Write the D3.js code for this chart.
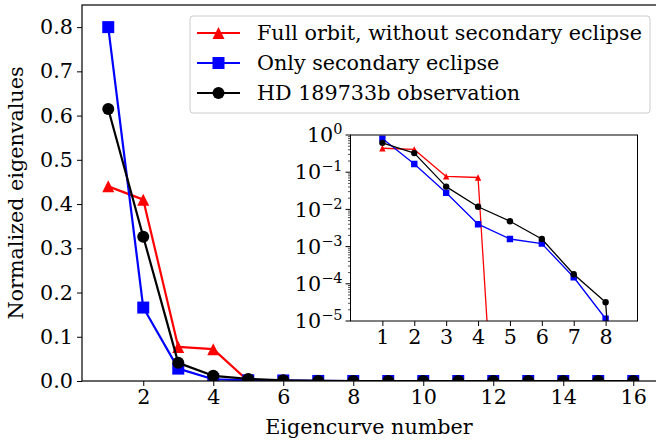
<!DOCTYPE html>
<html>
<head>
<meta charset="utf-8">
<script src="https://cdn.jsdelivr.net/npm/d3@7"></script>
<style>
  body { margin: 0; background: #fff; }
  svg { display: block; font-family: "DejaVu Serif", serif; }
</style>
</head>
<body>
<svg id="chart" width="656" height="440"></svg>
<script>
// eigencurve index 1..16
const eigenNumbers = [1, 2, 3, 4, 5, 6, 7, 8, 9, 10, 11, 12, 13, 14, 15, 16];

const fullOrbit = [0.44, 0.41, 0.077, 0.072, 1.3e-15, 1e-16, 1e-16, 1e-16, 1e-16, 1e-16, 1e-16, 1e-16, 1e-16, 1e-16, 1e-16, 1e-16];
const secondaryOnly = [0.80, 0.166, 0.028, 0.0040, 0.0016, 0.0012, 0.00015, 1.15e-5, 1e-16, 1e-16, 1e-16, 1e-16, 1e-16, 1e-16, 1e-16, 1e-16];
const hdObservation = [0.615, 0.326, 0.041, 0.0118, 0.0048, 0.0016, 0.00018, 3.2e-5, 1e-16, 1e-16, 1e-16, 1e-16, 1e-16, 1e-16, 1e-16, 1e-16];

const seriesNames = ["Full orbit, without secondary eclipse", "Only secondary eclipse", "HD 189733b observation"];
const seriesColors = ["#ff0000", "#0000ff", "#000000"];
const seriesMarkers = ["triangle", "square", "circle"];

const mainXTicks = [2, 4, 6, 8, 10, 12, 14, 16];
const mainYTicks = [0.0, 0.1, 0.2, 0.3, 0.4, 0.5, 0.6, 0.7, 0.8];
const insetXTicks = [1, 2, 3, 4, 5, 6, 7, 8];
const insetYExponents = [0, -1, -2, -3, -4, -5];

const fontSize = 20.7;

const series = [fullOrbit, secondaryOnly, hdObservation].map((vals, i) => ({
	name: seriesNames[i],
	color: seriesColors[i],
	marker: seriesMarkers[i],
	values: vals.map((v, j) => ({ n: eigenNumbers[j], v: v }))
}));

const svg = d3.select("#chart");

function markerPath(type, s) {
	// s = half size
	if (type === "triangle") return "M0," + (-s) + "L" + (-s) + "," + s + "L" + s + "," + s + "Z";
	if (type === "square") return "M" + (-s) + "," + (-s) + "h" + (2 * s) + "v" + (2 * s) + "h" + (-2 * s) + "Z";
	return d3.symbol().type(d3.symbolCircle).size(Math.PI * s * s)();
}

// ---------- main axes ----------
const main = { left: 82, right: 659.5, top: 5, bottom: 381 };

const x = d3.scaleLinear().domain([0.25, 16.75]).range([main.left, main.right]);
const y = d3.scaleLinear().domain([0, 0.85]).range([main.bottom, main.top]);

svg.append("clipPath").attr("id", "clip-main")
	.append("rect")
	.attr("x", main.left).attr("y", main.top)
	.attr("width", main.right - main.left).attr("height", main.bottom - main.top);

const mainPlot = svg.append("g").attr("clip-path", "url(#clip-main)");

const line = d3.line()
	.x(d => x(d.n))
	.y(d => y(d.v));

series.forEach(s => {
	mainPlot.append("path")
		.datum(s.values)
		.attr("fill", "none")
		.attr("stroke", s.color)
		.attr("stroke-width", 2.2)
		.attr("stroke-linejoin", "round")
		.attr("d", line);
	mainPlot.selectAll(null)
		.data(s.values)
		.enter().append("path")
		.attr("transform", d => "translate(" + x(d.n) + "," + y(d.v) + ")")
		.attr("d", markerPath(s.marker, 6))
		.attr("fill", s.color);
});

const xAxis = svg.append("g")
	.attr("transform", "translate(0," + main.bottom + ")")
	.call(d3.axisBottom(x).tickValues(mainXTicks).tickSize(5).tickPadding(3).tickFormat(d3.format("d")));

const yAxis = svg.append("g")
	.attr("transform", "translate(" + main.left + ",0)")
	.call(d3.axisLeft(y).tickValues(mainYTicks).tickSize(5).tickPadding(4).tickFormat(d3.format(".1f")));

[xAxis, yAxis].forEach(a => {
	a.select(".domain").remove();
	a.selectAll("line").attr("stroke", "#000").attr("stroke-width", 1);
	a.selectAll("text").attr("font-family", "DejaVu Serif").attr("font-size", fontSize).attr("fill", "#000");
});

svg.append("rect")
	.attr("x", main.left).attr("y", main.top)
	.attr("width", main.right - main.left).attr("height", main.bottom - main.top)
	.attr("fill", "none").attr("stroke", "#000").attr("stroke-width", 1.2);

svg.append("text")
	.attr("x", 369).attr("y", 434)
	.attr("text-anchor", "middle")
	.attr("font-size", fontSize)
	.text("Eigencurve number");

svg.append("text")
	.attr("transform", "translate(23," + ((main.top + main.bottom) / 2) + ") rotate(-90)")
	.attr("text-anchor", "middle")
	.attr("font-size", fontSize)
	.text("Normalized eigenvalues");

// ---------- legend ----------
const legend = svg.append("g").attr("transform", "translate(190,16)");
legend.append("rect")
	.attr("width", 460).attr("height", 97)
	.attr("rx", 3)
	.attr("fill", "#fff").attr("fill-opacity", 0.8)
	.attr("stroke", "#cccccc").attr("stroke-width", 1);

series.forEach((s, i) => {
	const row = legend.append("g").attr("transform", "translate(0," + (17 + i * 30) + ")");
	row.append("line")
		.attr("x1", 7).attr("x2", 50)
		.attr("stroke", s.color).attr("stroke-width", 2.2);
	row.append("path")
		.attr("transform", "translate(28.5,0)")
		.attr("d", markerPath(s.marker, 6))
		.attr("fill", s.color);
	row.append("text")
		.attr("x", 67).attr("dy", "0.35em")
		.attr("font-size", fontSize)
		.text(s.name);
});

// ---------- inset (log scale) ----------
const inset = { left: 350.5, right: 637.5, top: 135, bottom: 321 };

const xi = d3.scaleLinear().domain([0, 9]).range([inset.left, inset.right]);
const yi = d3.scaleLog().domain([1e-5, 1]).range([inset.bottom, inset.top]);

svg.append("rect")
	.attr("x", inset.left).attr("y", inset.top)
	.attr("width", inset.right - inset.left).attr("height", inset.bottom - inset.top)
	.attr("fill", "#fff");

svg.append("clipPath").attr("id", "clip-inset")
	.append("rect")
	.attr("x", inset.left).attr("y", inset.top)
	.attr("width", inset.right - inset.left).attr("height", inset.bottom - inset.top);

const insetPlot = svg.append("g").attr("clip-path", "url(#clip-inset)");

const lineLog = d3.line()
	.x(d => xi(d.n))
	.y(d => yi(d.v));

series.forEach(s => {
	const pts = s.values.filter(d => d.n <= 9);
	insetPlot.append("path")
		.datum(pts)
		.attr("fill", "none")
		.attr("stroke", s.color)
		.attr("stroke-width", 1.3)
		.attr("stroke-linejoin", "round")
		.attr("d", lineLog);
	insetPlot.selectAll(null)
		.data(pts.filter(d => d.v > 1e-6))
		.enter().append("path")
		.attr("transform", d => "translate(" + xi(d.n) + "," + yi(d.v) + ")")
		.attr("d", markerPath(s.marker, 3.2))
		.attr("fill", s.color);
});

const xiAxis = svg.append("g")
	.attr("transform", "translate(0," + inset.bottom + ")")
	.call(d3.axisBottom(xi).tickValues(insetXTicks).tickSize(5).tickPadding(3).tickFormat(d3.format("d")));
xiAxis.select(".domain").remove();
xiAxis.selectAll("text").attr("font-family", "DejaVu Serif").attr("font-size", fontSize);

// minor log ticks
const minorVals = [];
for (let e = -5; e < 0; e++) {
	for (let m = 2; m <= 9; m++) minorVals.push(m * Math.pow(10, e));
}
svg.append("g").selectAll("line")
	.data(minorVals)
	.enter().append("line")
	.attr("x1", inset.left).attr("x2", inset.left - 2.5)
	.attr("y1", d => yi(d)).attr("y2", d => yi(d))
	.attr("stroke", "#000").attr("stroke-width", 0.7);

const yiAxis = svg.append("g").attr("transform", "translate(" + inset.left + ",0)");
insetYExponents.forEach(e => {
	const yy = yi(Math.pow(10, e));
	yiAxis.append("line")
		.attr("x1", 0).attr("x2", -5).attr("y1", yy).attr("y2", yy)
		.attr("stroke", "#000").attr("stroke-width", 1);
	const t = yiAxis.append("text")
		.attr("x", -8).attr("y", yy)
		.attr("dy", "0.35em")
		.attr("text-anchor", "end")
		.attr("font-size", fontSize);
	t.append("tspan").text("10");
	t.append("tspan")
		.attr("dy", "-0.55em")
		.attr("font-size", 14.5)
		.text(e === 0 ? "0" : "\u2212" + (-e));
});

svg.append("rect")
	.attr("x", inset.left).attr("y", inset.top)
	.attr("width", inset.right - inset.left).attr("height", inset.bottom - inset.top)
	.attr("fill", "none").attr("stroke", "#000").attr("stroke-width", 1);
</script>
</body>
</html>
